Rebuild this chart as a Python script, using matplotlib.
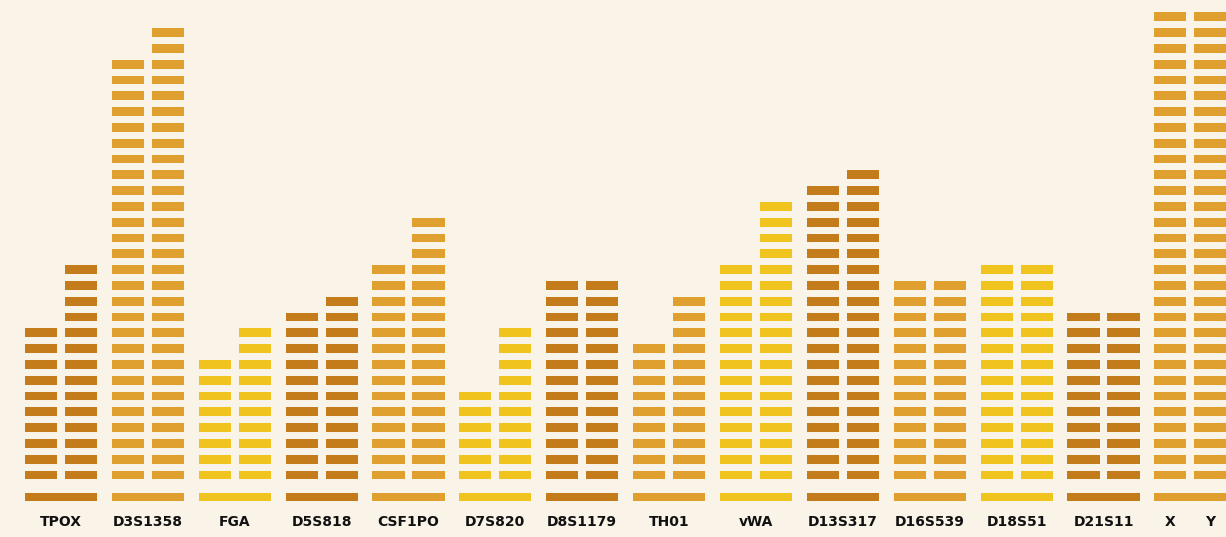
import matplotlib.pyplot as plt
import numpy as np

# STR loci, two alleles each (segment counts)
loci = ['TPOX', 'D3S1358', 'FGA', 'D5S818', 'CSF1PO', 'D7S820', 'D8S1179',
        'TH01', 'vWA', 'D13S317', 'D16S539', 'D18S51', 'D21S11', 'X Y']
allele_a = [10, 27, 8, 11, 14, 6, 13, 9, 14, 19, 13, 14, 11, 30]
allele_b = [14, 29, 10, 12, 17, 10, 13, 12, 18, 20, 13, 14, 11, 30]

colors = ['#C47C1A', '#DFA02F', '#F0C31F']
bg = '#FAF3E8'

seg_h = 0.55
bar_w = 0.37
off = 0.23

fig = plt.figure(figsize=(12.26, 5.37), dpi=100, facecolor=bg)
ax = fig.add_axes([0, 0, 1, 1])
ax.set_facecolor(bg)

for i, name in enumerate(loci):
    c = colors[i % 3]
    for dx, n in ((-off, allele_a[i]), (off, allele_b[i])):
        ax.bar(np.full(n, i + dx), seg_h, bottom=np.arange(n) - seg_h / 2,
               width=bar_w, color=c, linewidth=0)
    # base strip under the pair
    ax.bar(i, 0.55, bottom=-1.39 - 0.275, width=2 * off + bar_w, color=c, linewidth=0)
    if name == 'X Y':
        for dx, t in ((-off, 'X'), (off, 'Y')):
            ax.text(i + dx, -3.0, t, ha='center', va='center', fontsize=10,
                    fontweight='bold', color='#111111')
    else:
        ax.text(i, -3.0, name, ha='center', va='center', fontsize=10,
                fontweight='bold', color='#111111')

ax.set_xlim(-0.702, 13.41)
ax.set_ylim(-3.92, 30.06)
ax.axis('off')

fig.savefig('out.png', dpi=100, facecolor=bg)
